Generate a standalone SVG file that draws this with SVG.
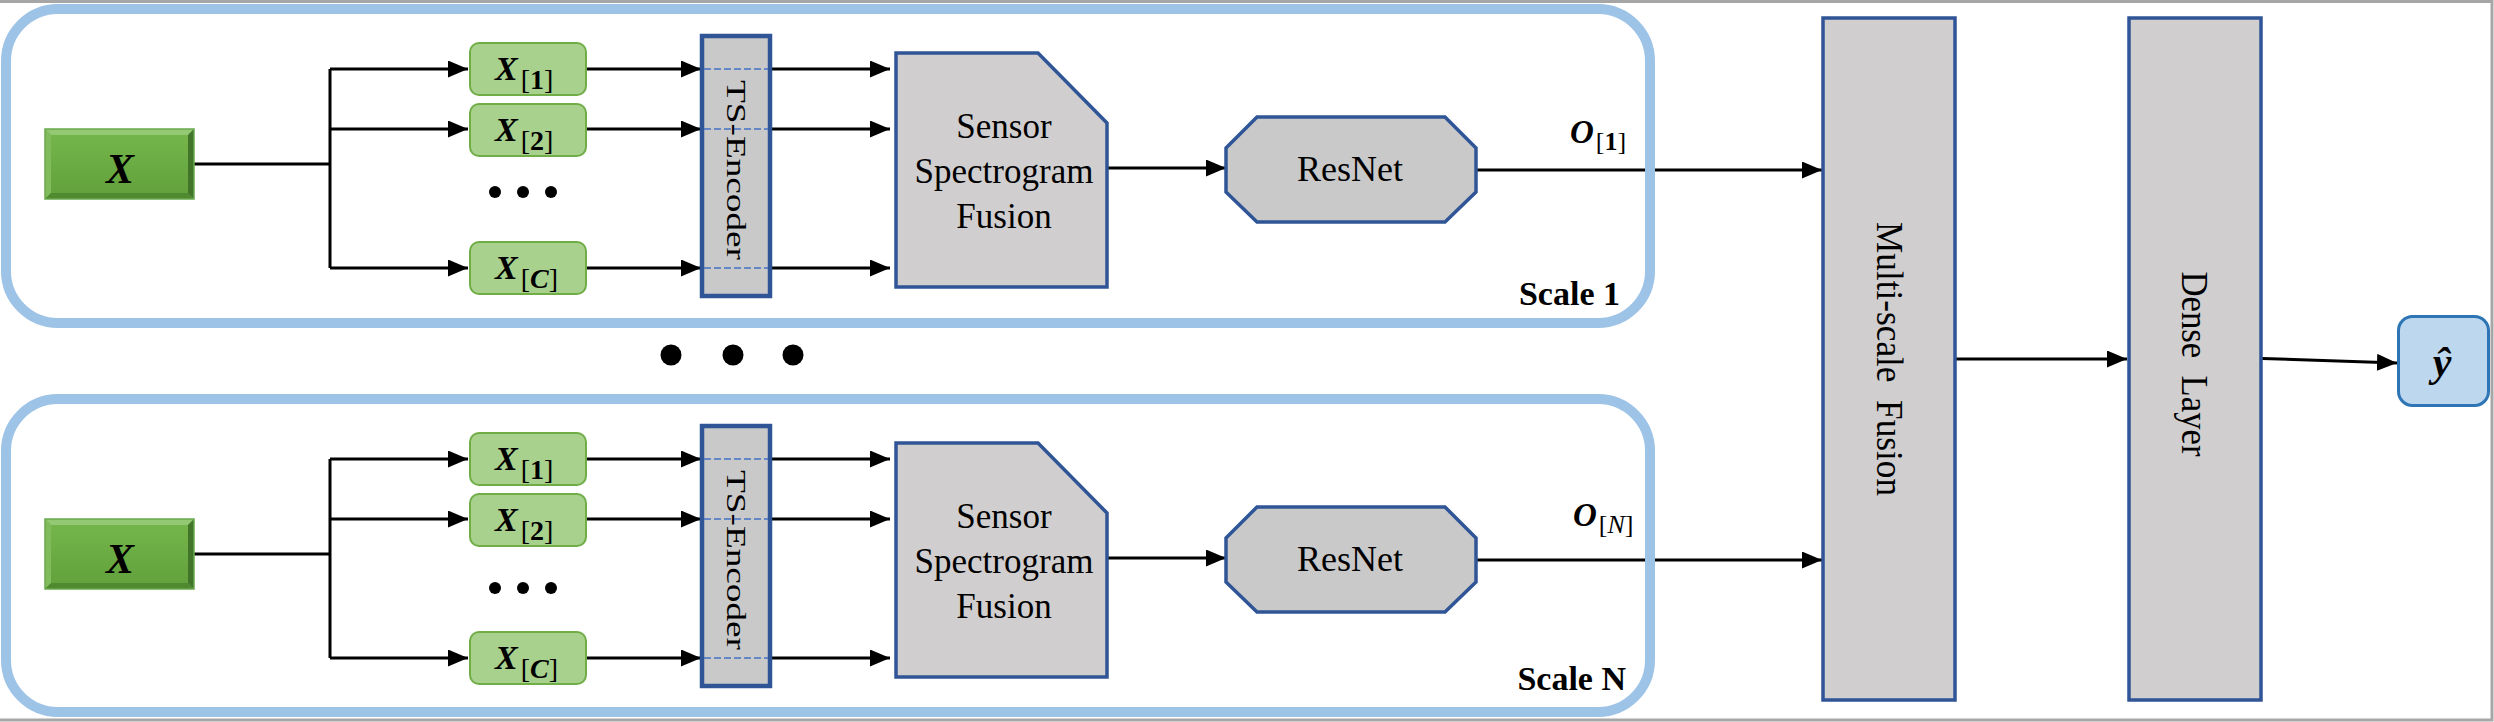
<svg xmlns="http://www.w3.org/2000/svg" width="2494" height="722" viewBox="0 0 2494 722">
<style>
.ln{stroke:#000;stroke-width:3;fill:none}
.arr{marker-end:url(#ah)}
.dash{stroke:#4472C4;stroke-width:1.5;stroke-dasharray:7 3;fill:none}
.cont{fill:none;stroke:#9DC3E6;stroke-width:10}
.proc{fill:#D0CECE;stroke:#2F5597;stroke-width:3.5}
.ts{fill:#C9C9C9;stroke:#2F5597;stroke-width:4.5}
.xi{fill:#A9D18E;stroke:#70AD47;stroke-width:2}
.serif{font-family:"Liberation Serif","Times New Roman",serif;fill:#000}
.lbl{font-size:35px;text-anchor:middle}
.math{font-weight:bold;font-style:italic}
.scale{font-size:34px;font-weight:bold;text-anchor:end}
</style>
<defs>
<marker id="ah" markerUnits="userSpaceOnUse" markerWidth="20" markerHeight="17" refX="20" refY="8.5" orient="auto">
<path d="M0,0 L20,8.5 L0,17 z" fill="#000"/>
</marker>
<linearGradient id="gface" x1="0" y1="0" x2="0" y2="1">
<stop offset="0" stop-color="#74B54B"/>
<stop offset="1" stop-color="#63A23C"/>
</linearGradient>
<g id="xbevel">
<rect x="0" y="0" width="149" height="70" fill="#70AD47"/>
<polygon points="0,0 149,0 143,6 6,6" fill="#94C873"/>
<polygon points="0,0 6,6 6,64 0,70" fill="#80BB5C"/>
<polygon points="0,70 149,70 143,64 6,64" fill="#4F8A31"/>
<polygon points="149,0 149,70 143,64 143,6" fill="#42752A"/>
<rect x="6" y="6" width="137" height="58" fill="url(#gface)"/>
<rect x="0" y="0" width="149" height="70" fill="none" stroke="#6AA84F" stroke-width="1.5"/>
</g>
</defs>
<rect x="0" y="0" width="2494" height="722" fill="#fff"/>
<rect x="-3" y="1.5" width="2495" height="718.5" fill="none" stroke="#A6A6A6" stroke-width="3"/>

<g id="connectors">
<!-- scale 1 -->
<path class="ln" d="M194,164 H330 M330,69 V268"/>
<path class="ln arr" d="M330,69 H468"/>
<path class="ln arr" d="M330,129 H468"/>
<path class="ln arr" d="M330,268 H468"/>
<path class="ln arr" d="M586,69 H701"/>
<path class="ln arr" d="M586,129 H701"/>
<path class="ln arr" d="M586,268 H701"/>
<path class="ln arr" d="M772,69 H890"/>
<path class="ln arr" d="M772,129 H890"/>
<path class="ln arr" d="M772,268 H890"/>
<path class="ln arr" d="M1107,168 H1226"/>
<path class="ln arr" d="M1476,170 H1822"/>
<!-- scale N -->
<path class="ln" d="M194,554 H330 M330,459 V658"/>
<path class="ln arr" d="M330,459 H468"/>
<path class="ln arr" d="M330,519 H468"/>
<path class="ln arr" d="M330,658 H468"/>
<path class="ln arr" d="M586,459 H701"/>
<path class="ln arr" d="M586,519 H701"/>
<path class="ln arr" d="M586,658 H701"/>
<path class="ln arr" d="M772,459 H890"/>
<path class="ln arr" d="M772,519 H890"/>
<path class="ln arr" d="M772,658 H890"/>
<path class="ln arr" d="M1107,558 H1226"/>
<path class="ln arr" d="M1476,560 H1822"/>
<!-- fusion path -->
<path class="ln arr" d="M1956,359 H2127"/>
<path class="ln arr" d="M2262,358.5 L2397,363"/>
</g>

<g id="scale1">
<rect class="cont" x="6" y="9" width="1644" height="314" rx="52" ry="52"/>
<text class="serif scale" x="1620" y="305">Scale 1</text>
</g>
<g id="scaleN">
<rect class="cont" x="6" y="399" width="1644" height="313" rx="52" ry="52"/>
<text class="serif scale" x="1626" y="690">Scale N</text>
</g>

<g id="input1">
<use href="#xbevel" x="45" y="129"/>
<text class="serif math" x="120" y="183" font-size="42" text-anchor="middle">X</text>
</g>
<g id="inputN">
<use href="#xbevel" x="45" y="519"/>
<text class="serif math" x="120" y="573" font-size="42" text-anchor="middle">X</text>
</g>

<g id="x1-s1"><rect class="xi" x="470" y="43" width="116" height="52" rx="9"/>
<text class="serif" x="495" y="80"><tspan class="math" font-size="34">X</tspan><tspan font-size="28" dx="3" dy="9">[<tspan font-weight="bold">1</tspan>]</tspan></text></g>
<g id="x2-s1"><rect class="xi" x="470" y="104" width="116" height="52" rx="9"/>
<text class="serif" x="495" y="141"><tspan class="math" font-size="34">X</tspan><tspan font-size="28" dx="3" dy="9">[<tspan font-weight="bold">2</tspan>]</tspan></text></g>
<g id="xc-s1"><rect class="xi" x="470" y="242" width="116" height="52" rx="9"/>
<text class="serif" x="495" y="279"><tspan class="math" font-size="34">X</tspan><tspan font-size="28" dx="3" dy="9">[<tspan class="math">C</tspan>]</tspan></text></g>
<g id="dots-s1" fill="#000"><circle cx="495" cy="192" r="6"/><circle cx="523" cy="192" r="6"/><circle cx="551" cy="192" r="6"/></g>

<g id="x1-sN"><rect class="xi" x="470" y="433" width="116" height="52" rx="9"/>
<text class="serif" x="495" y="470"><tspan class="math" font-size="34">X</tspan><tspan font-size="28" dx="3" dy="9">[<tspan font-weight="bold">1</tspan>]</tspan></text></g>
<g id="x2-sN"><rect class="xi" x="470" y="494" width="116" height="52" rx="9"/>
<text class="serif" x="495" y="531"><tspan class="math" font-size="34">X</tspan><tspan font-size="28" dx="3" dy="9">[<tspan font-weight="bold">2</tspan>]</tspan></text></g>
<g id="xc-sN"><rect class="xi" x="470" y="632" width="116" height="52" rx="9"/>
<text class="serif" x="495" y="669"><tspan class="math" font-size="34">X</tspan><tspan font-size="28" dx="3" dy="9">[<tspan class="math">C</tspan>]</tspan></text></g>
<g id="dots-sN" fill="#000"><circle cx="495" cy="588" r="6"/><circle cx="523" cy="588" r="6"/><circle cx="551" cy="588" r="6"/></g>

<g id="tsenc-s1">
<rect class="ts" x="702" y="36" width="68" height="260"/>
<path class="dash" d="M704,69 H768 M704,129 H768 M704,268 H768"/>
<text class="serif" transform="translate(736,170) rotate(90)" y="9" font-size="27" text-anchor="middle" textLength="180" lengthAdjust="spacingAndGlyphs">TS-Encoder</text>
</g>
<g id="tsenc-sN">
<rect class="ts" x="702" y="426" width="68" height="260"/>
<path class="dash" d="M704,459 H768 M704,519 H768 M704,658 H768"/>
<text class="serif" transform="translate(736,560) rotate(90)" y="9" font-size="27" text-anchor="middle" textLength="180" lengthAdjust="spacingAndGlyphs">TS-Encoder</text>
</g>

<g id="ssf-s1">
<polygon class="proc" points="896,53 1038,53 1107,123 1107,287 896,287"/>
<text class="serif lbl" x="1004" y="138">Sensor</text>
<text class="serif lbl" x="1004" y="183">Spectrogram</text>
<text class="serif lbl" x="1004" y="228">Fusion</text>
</g>
<g id="ssf-sN">
<polygon class="proc" points="896,443 1038,443 1107,513 1107,677 896,677"/>
<text class="serif lbl" x="1004" y="528">Sensor</text>
<text class="serif lbl" x="1004" y="573">Spectrogram</text>
<text class="serif lbl" x="1004" y="618">Fusion</text>
</g>

<g id="resnet-s1">
<polygon class="proc" style="fill:#C9C9C9" points="1257,117 1445,117 1476,148 1476,192 1445,222 1257,222 1226,192 1226,148"/>
<text class="serif" x="1350" y="181" font-size="36" text-anchor="middle">ResNet</text>
</g>
<g id="resnet-sN">
<polygon class="proc" style="fill:#C9C9C9" points="1257,507 1445,507 1476,538 1476,582 1445,612 1257,612 1226,582 1226,538"/>
<text class="serif" x="1350" y="571" font-size="36" text-anchor="middle">ResNet</text>
</g>

<g id="out1-label">
<text class="serif" x="1570" y="143"><tspan class="math" font-size="33">O</tspan><tspan font-size="26" dx="2" dy="7">[<tspan font-weight="bold">1</tspan>]</tspan></text>
</g>
<g id="outN-label">
<text class="serif" x="1573" y="526"><tspan class="math" font-size="33">O</tspan><tspan font-size="26" dx="2" dy="7">[<tspan font-style="italic">N</tspan>]</tspan></text>
</g>

<g id="scale-dots" fill="#000">
<circle cx="671" cy="355" r="10.5"/><circle cx="733" cy="355" r="10.5"/><circle cx="793" cy="355" r="10.5"/>
</g>

<g id="msf">
<rect class="proc" x="1823" y="18" width="132" height="682"/>
<text class="serif" transform="translate(1888,359) rotate(90)" y="11" font-size="37" text-anchor="middle" textLength="274" lengthAdjust="spacingAndGlyphs" xml:space="preserve">Multi-scale  Fusion</text>
</g>
<g id="dense">
<rect class="proc" x="2129" y="18" width="132" height="682"/>
<text class="serif" transform="translate(2194,364) rotate(90)" y="12" font-size="37" text-anchor="middle" textLength="185" lengthAdjust="spacingAndGlyphs" xml:space="preserve">Dense  Layer</text>
</g>
<g id="yhat">
<rect x="2398.5" y="316.5" width="90" height="89" rx="14" fill="#BDD7EE" stroke="#2E75B6" stroke-width="3"/>
<text class="serif math" x="2442" y="376" font-size="42" text-anchor="middle">ŷ</text>
</g>
</svg>
